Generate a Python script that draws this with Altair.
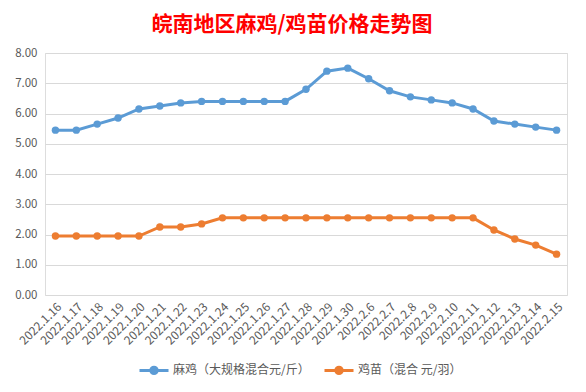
import altair as alt
import pandas as pd

dates = ["2022.1.16", "2022.1.17", "2022.1.18", "2022.1.19", "2022.1.20", "2022.1.21",
         "2022.1.22", "2022.1.23", "2022.1.24", "2022.1.25", "2022.1.26", "2022.1.27",
         "2022.1.28", "2022.1.29", "2022.1.30", "2022.2.6", "2022.2.7", "2022.2.8",
         "2022.2.9", "2022.2.10", "2022.2.11", "2022.2.12", "2022.2.13", "2022.2.14",
         "2022.2.15"]
maji = [5.45, 5.45, 5.65, 5.85, 6.15, 6.25, 6.35, 6.4, 6.4, 6.4, 6.4, 6.4,
        6.8, 7.4, 7.5, 7.15, 6.75, 6.55, 6.45, 6.35, 6.15, 5.75, 5.65, 5.55, 5.45]
jimiao = [1.95, 1.95, 1.95, 1.95, 1.95, 2.25, 2.25, 2.35, 2.55, 2.55, 2.55, 2.55,
          2.55, 2.55, 2.55, 2.55, 2.55, 2.55, 2.55, 2.55, 2.55, 2.15, 1.85, 1.65, 1.35]
series = ["麻鸡（大规格混合元/斤）", "鸡苗（混合 元/羽）"]
colors = ["#5B9BD5", "#ED7D31"]

rows = []
for name, vals in zip(series, [maji, jimiao]):
    for d, v in zip(dates, vals):
        rows.append({"date": d, "value": v, "series": name})
df = pd.DataFrame(rows)

FONT = "Noto Sans CJK SC"
sym = "M-1,0L1,0M0.22,0A0.22,0.22,0,1,1,-0.22,0A0.22,0.22,0,1,1,0.22,0"

chart = alt.Chart(df).mark_line(
    strokeWidth=3,
    point=alt.OverlayMarkDef(filled=True, size=55, opacity=1),
).encode(
    x=alt.X("date:N", sort=dates, title=None,
            axis=alt.Axis(labelAngle=-45, labelFontSize=12, labelColor="#595959",
                          labelFont=FONT, domain=False, ticks=False, grid=False,
                          labelPadding=6)),
    y=alt.Y("value:Q", title=None,
            scale=alt.Scale(domain=[0, 8], nice=False),
            axis=alt.Axis(values=[0, 1, 2, 3, 4, 5, 6, 7, 8], format=".2f",
                          labelFontSize=11.5, labelColor="#595959", labelFont=FONT,
                          domain=False, ticks=False, gridColor="#D9D9D9",
                          labelPadding=8)),
    color=alt.Color("series:N", sort=series,
                    scale=alt.Scale(domain=series, range=colors),
                    legend=alt.Legend(title=None, orient="none", direction="horizontal",
                                      legendX=93, legendY=301,
                                      symbolType=sym, symbolSize=841,
                                      symbolStrokeWidth=3,
                                      labelFont=FONT, labelFontSize=12,
                                      labelColor="#595959", labelOffset=3,
                                      columnPadding=8)),
).properties(
    width=522,
    height=242,
    title=alt.TitleParams("皖南地区麻鸡/鸡苗价格走势图", color="#FF0000", fontSize=21,
                          font=FONT, fontWeight="bold", anchor="middle", dx=-14,
                          offset=12),
    autosize=alt.AutoSizeParams(type="none"),
    padding={"left": 37, "top": 45, "right": 11, "bottom": 86},
).configure_view(stroke=None).configure(background="white")

chart.save("out.html", embed_options={"renderer": "svg", "actions": False})
